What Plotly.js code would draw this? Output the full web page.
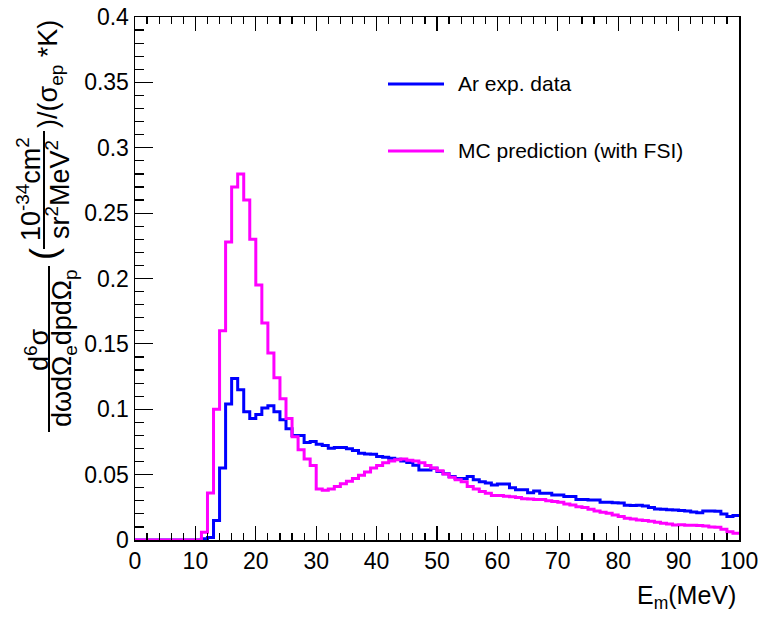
<!DOCTYPE html>
<html>
<head>
<meta charset="utf-8">
<script src="https://cdn.plot.ly/plotly-3.0.1.min.js"></script>
<style>html,body{margin:0;padding:0;background:#fff;}#chart{width:778px;height:620px;}</style>
</head>
<body>
<div id="chart"></div>
<script>
// Binning of E_m axis (MeV): 100 bins of 1 MeV from 0 to 100
var binStart = 0;
var binWidth = 1;

// Ar experimental data (blue), one value per bin
var arData = [
  0,0,0,0,0,0,0,0,0,0,
  0,0.001,0.002,0.015,0.055,0.104,0.1235,0.115,0.098,0.093,
  0.096,0.101,0.1026,0.098,0.092,0.085,0.080,0.080,0.0745,0.0753,
  0.0733,0.0722,0.0702,0.0707,0.0707,0.0697,0.0684,0.0664,0.0658,0.0656,
  0.0638,0.0633,0.0625,0.0618,0.0605,0.0592,0.0572,0.0536,0.0536,0.0549,
  0.0523,0.0506,0.0485,0.047,0.047,0.0485,0.046,0.0445,0.0435,0.042,
  0.0428,0.0428,0.040,0.0385,0.0385,0.0362,0.0375,0.0357,0.0357,0.0345,
  0.0345,0.0332,0.0332,0.031,0.031,0.0306,0.0306,0.0288,0.0288,0.0285,
  0.0283,0.0265,0.0263,0.0265,0.026,0.0248,0.0238,0.0235,0.0232,0.023,
  0.0225,0.0222,0.0215,0.0208,0.0222,0.0222,0.022,0.0198,0.0179,0.0188
];

// MC prediction with FSI (magenta), one value per bin
var mcPred = [
  0,0,0,0,0,0,0,0,0,0,
  0,0.006,0.036,0.100,0.160,0.228,0.270,0.280,0.260,0.230,
  0.195,0.166,0.143,0.124,0.108,0.093,0.079,0.069,0.062,0.057,
  0.039,0.038,0.039,0.041,0.043,0.045,0.047,0.0495,0.052,0.055,
  0.057,0.059,0.0605,0.0613,0.062,0.061,0.0605,0.059,0.057,0.055,
  0.053,0.0505,0.048,0.046,0.0445,0.041,0.039,0.037,0.0357,0.034,
  0.034,0.0335,0.033,0.0325,0.0315,0.0314,0.031,0.031,0.030,0.0295,
  0.0288,0.0275,0.0268,0.0255,0.0248,0.0235,0.0222,0.0212,0.0204,0.0192,
  0.0179,0.0166,0.016,0.0153,0.015,0.0143,0.0135,0.0128,0.0122,0.0115,
  0.0116,0.0113,0.0112,0.011,0.0108,0.0100,0.0097,0.0082,0.0064,0.0051
];

var seriesNames = ["Ar exp. data", "MC prediction (with FSI)"];
var seriesColors = ["#0000ff", "#ff00ff"];

var xTickVals = [0,10,20,30,40,50,60,70,80,90,100];
var xTickText = ["0","10","20","30","40","50","60","70","80","90","100"];
var yTickVals = [0,0.05,0.1,0.15,0.2,0.25,0.3,0.35,0.4];
var yTickText = ["0","0.05","0.1","0.15","0.2","0.25","0.3","0.35","0.4"];

function stepXY(vals){
  var xs = [], ys = [];
  for (var i = 0; i < vals.length; i++){ xs.push(binStart + i*binWidth); ys.push(vals[i]); }
  xs.push(binStart + vals.length*binWidth); ys.push(vals[vals.length-1]);
  return {x: xs, y: ys};
}

var d1 = stepXY(arData), d2 = stepXY(mcPred);
var FONT = "Liberation Sans, Arial, Helvetica, sans-serif";

var traces = [
  {x: d1.x, y: d1.y, type: 'scatter', mode: 'lines', line: {shape: 'hv', color: seriesColors[0], width: 3}, name: seriesNames[0], showlegend: false},
  {x: d2.x, y: d2.y, type: 'scatter', mode: 'lines', line: {shape: 'hv', color: seriesColors[1], width: 3}, name: seriesNames[1], showlegend: false}
];

// plot area in px: left 135, right 739, top 17, bottom 540
var L = 135, R = 739, T = 17, B = 540;
function px(x){ return (x - L)/(R - L); }
function py(y){ return (B - y)/(B - T); }

var annots = [
  {text: "d<sup>6</sup>σ", x: px(37), y: py(350), textangle: -90, font: {size: 27}},
  {text: "dωdΩ<sub>e</sub>dpdΩ<sub>p</sub>", x: px(64), y: py(348), textangle: -90, font: {size: 27}},
  {text: "(", x: px(44), y: py(254), textangle: -90, font: {size: 36}},
  {text: "10<sup>-34</sup>cm<sup>2</sup>", x: px(29), y: py(189), textangle: -90, font: {size: 27}},
  {text: "sr<sup>2</sup>MeV<sup>2</sup>", x: px(58), y: py(189), textangle: -90, font: {size: 27}},
  {text: ")/(σ<sub>ep</sub> *K)", x: px(50), y: py(74), textangle: -90, font: {size: 27}},
  {text: "E<sub>m</sub>(MeV)", x: px(738), y: py(597), xanchor: 'right', yanchor: 'middle', font: {size: 25}},
  {text: seriesNames[0], x: px(456), y: py(84), xanchor: 'left', yanchor: 'middle', font: {size: 21}},
  {text: seriesNames[1], x: px(456), y: py(151), xanchor: 'left', yanchor: 'middle', font: {size: 21}}
];
annots.forEach(function(a){
  a.xref = 'paper'; a.yref = 'paper'; a.showarrow = false;
  if (!a.xanchor) a.xanchor = 'center';
  if (!a.yanchor) a.yanchor = 'middle';
  a.font.family = FONT; a.font.color = '#000';
});

var shapes = [
  {type: 'line', xref: 'paper', yref: 'paper', x0: px(49), x1: px(49), y0: py(266), y1: py(432), line: {color: '#000', width: 2}},
  {type: 'line', xref: 'paper', yref: 'paper', x0: px(44), x1: px(44), y0: py(131), y1: py(249), line: {color: '#000', width: 2}},
  {type: 'line', xref: 'paper', yref: 'paper', x0: px(388), x1: px(444), y0: py(84), y1: py(84), line: {color: seriesColors[0], width: 3}},
  {type: 'line', xref: 'paper', yref: 'paper', x0: px(388), x1: px(444), y0: py(151), y1: py(151), line: {color: seriesColors[1], width: 3}}
];

var layout = {
  width: 778, height: 620,
  margin: {l: L, r: 778 - R, t: T, b: 620 - B, pad: 0},
  paper_bgcolor: '#fff', plot_bgcolor: '#fff',
  font: {family: FONT, color: '#000'},
  showlegend: false,
  xaxis: {
    range: [0, 100], showgrid: false, zeroline: false,
    showline: true, linecolor: '#000', linewidth: 1.5, mirror: 'ticks',
    ticks: 'inside', ticklen: 14, tickwidth: 1.2, tickcolor: '#000',
    tickmode: 'array', tickvals: xTickVals, ticktext: xTickText,
    tickfont: {size: 23, family: FONT},
    minor: {tickmode: 'linear', tick0: 0, dtick: 2, ticks: 'inside', ticklen: 7, tickwidth: 1.2, tickcolor: '#000', showgrid: false}
  },
  yaxis: {
    range: [0, 0.4], showgrid: false, zeroline: false,
    showline: true, linecolor: '#000', linewidth: 1.5, mirror: true,
    ticks: 'inside', ticklen: 18, tickwidth: 1.2, tickcolor: '#000',
    tickmode: 'array', tickvals: yTickVals, ticktext: yTickText,
    tickfont: {size: 23, family: FONT},
    minor: {tickmode: 'linear', tick0: 0, dtick: 0.01, ticks: 'inside', ticklen: 9, tickwidth: 1.2, tickcolor: '#000', showgrid: false}
  },
  annotations: annots,
  shapes: shapes
};

Plotly.newPlot('chart', traces, layout, {displayModeBar: false, staticPlot: true});
</script>
</body>
</html>
